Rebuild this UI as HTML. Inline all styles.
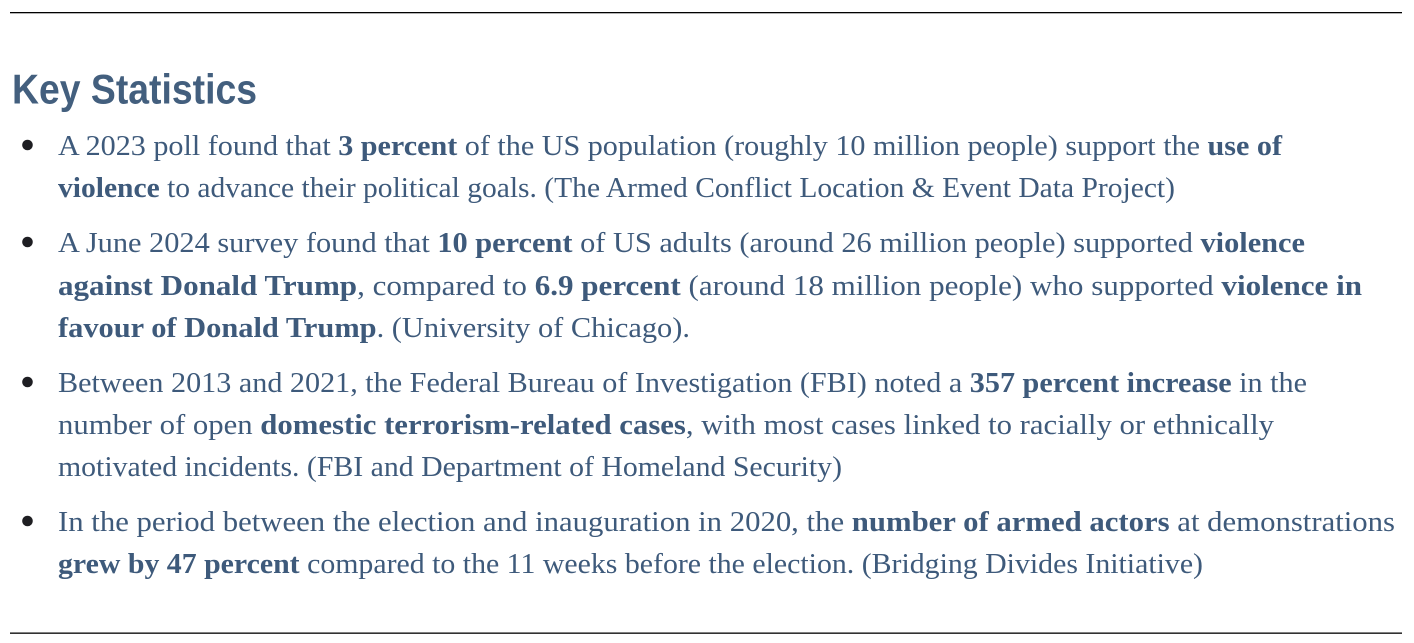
<!DOCTYPE html>
<html><head><meta charset="utf-8"><style>
html,body{margin:0;padding:0;background:#fff;width:1414px;height:643px;overflow:hidden}
svg{display:block}
.b{font-family:"Liberation Serif",serif;font-size:28px;fill:#3e5a7b}
.k{font-weight:700}
</style></head><body>
<svg width="1414" height="643" viewBox="0 0 1414 643" xmlns="http://www.w3.org/2000/svg">
<rect x="10" y="12" width="1392" height="1.3" fill="#000"/>
<rect x="10" y="632.5" width="1392" height="1.3" fill="#000"/>
<text x="12" y="103.5" font-family="Liberation Sans, sans-serif" font-size="42" font-weight="700" fill="#435f7e" textLength="245" lengthAdjust="spacingAndGlyphs">Key Statistics</text>
<g fill="#1e1e22">
<circle cx="27.5" cy="145" r="5.3"/>
<circle cx="27.5" cy="242" r="5.3"/>
<circle cx="27.5" cy="382" r="5.3"/>
<circle cx="27.5" cy="521" r="5.3"/>
</g>
<g class="b">
<text x="58" y="155" textLength="1224" lengthAdjust="spacingAndGlyphs">A 2023 poll found that <tspan class="k">3 percent</tspan> of the US population (roughly 10 million people) support the <tspan class="k">use of</tspan></text>
<text x="58" y="197" textLength="1117" lengthAdjust="spacingAndGlyphs"><tspan class="k">violence</tspan> to advance their political goals. (The Armed Conflict Location &amp; Event Data Project)</text>
<text x="58" y="252" textLength="1247" lengthAdjust="spacingAndGlyphs">A June 2024 survey found that <tspan class="k">10 percent</tspan> of US adults (around 26 million people) supported <tspan class="k">violence</tspan></text>
<text x="58" y="295" textLength="1304" lengthAdjust="spacingAndGlyphs"><tspan class="k">against Donald Trump</tspan>, compared to <tspan class="k">6.9 percent</tspan> (around 18 million people) who supported <tspan class="k">violence in</tspan></text>
<text x="58" y="337" textLength="632" lengthAdjust="spacingAndGlyphs"><tspan class="k">favour of Donald Trump</tspan>. (University of Chicago).</text>
<text x="58" y="392" textLength="1249" lengthAdjust="spacingAndGlyphs">Between 2013 and 2021, the Federal Bureau of Investigation (FBI) noted a <tspan class="k">357 percent increase</tspan> in the</text>
<text x="58" y="434" textLength="1216" lengthAdjust="spacingAndGlyphs">number of open <tspan class="k">domestic terrorism-related cases</tspan>, with most cases linked to racially or ethnically</text>
<text x="58" y="476" textLength="784" lengthAdjust="spacingAndGlyphs">motivated incidents. (FBI and Department of Homeland Security)</text>
<text x="58" y="531" textLength="1337" lengthAdjust="spacingAndGlyphs">In the period between the election and inauguration in 2020, the <tspan class="k">number of armed actors</tspan> at demonstrations</text>
<text x="58" y="573" textLength="1145" lengthAdjust="spacingAndGlyphs"><tspan class="k">grew by 47 percent</tspan> compared to the 11 weeks before the election. (Bridging Divides Initiative)</text>
</g>
</svg>
</body></html>
